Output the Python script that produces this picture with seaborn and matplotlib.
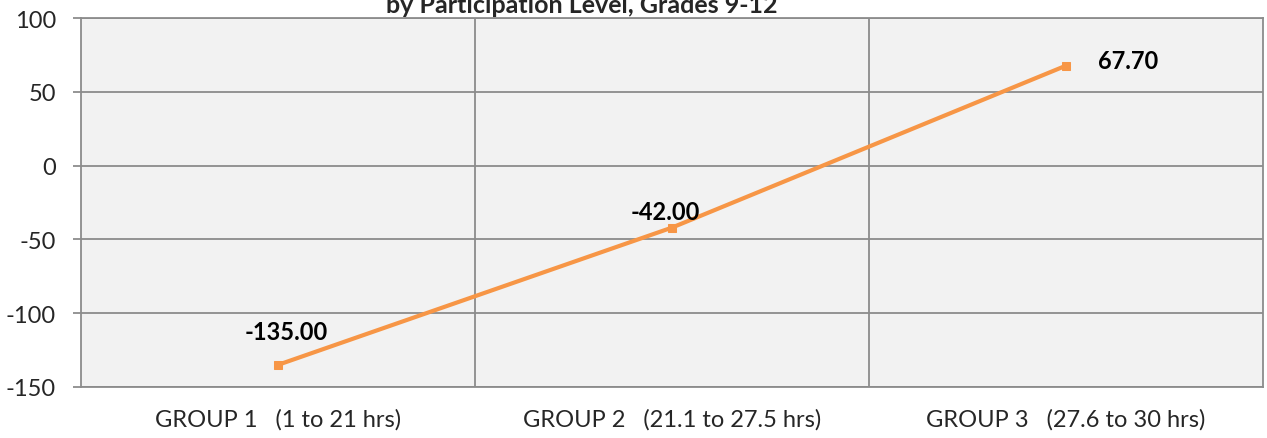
import matplotlib
matplotlib.use("Agg")
import matplotlib.pyplot as plt
import pandas as pd
import seaborn as sns

groups = ["GROUP 1   (1 to 21 hrs)", "GROUP 2   (21.1 to 27.5 hrs)", "GROUP 3   (27.6 to 30 hrs)"]
values = [-135.00, -42.00, 67.70]
y_ticks = [-150, -100, -50, 0, 50, 100]
title = "by Participation Level, Grades 9-12"

# label offsets in pixels (dx, dy) relative to each point
label_offsets = [(8, 33), (-7, 16), (62, 5)]

ORANGE = "#F79646"
GRID = "#8C8C8C"

sns.set_theme(style="white")
plt.rcParams["font.family"] = ["Lato", "DejaVu Sans"]
plt.rcParams["axes.unicode_minus"] = False

frame = pd.DataFrame({"group": groups, "value": values})

fig = plt.figure(figsize=(12.67, 4.39), dpi=100)
ax = fig.add_axes([81 / 1267, 1 - 388 / 439, (1263 - 81) / 1267, (388 - 19) / 439])
ax.set_facecolor("#F2F2F2")

sns.lineplot(data=frame, x="group", y="value", ax=ax, color=ORANGE, linewidth=3,
             marker="s", markersize=6, markeredgecolor=ORANGE, sort=False)

for i, (v, (dx, dy)) in enumerate(zip(values, label_offsets)):
    ax.annotate(f"{v:.2f}", (i, v), xytext=(dx, dy), textcoords="offset pixels",
                ha="center", va="center", fontsize=17, fontweight="bold", color="black")

ax.set_xlim(-0.5, len(groups) - 0.5)
ax.set_ylim(y_ticks[0], y_ticks[-1])
ax.set_yticks(y_ticks)
ax.set_xticks(range(len(groups)))
ax.set_xticks([i + 0.5 for i in range(len(groups) - 1)], minor=True)
ax.grid(True, axis="y", color=GRID, linewidth=1.3)
ax.grid(True, axis="x", which="minor", color=GRID, linewidth=1.3)
ax.grid(False, axis="x", which="major")
ax.set_axisbelow(True)

ax.tick_params(axis="y", which="major", length=6, width=1.3, color=GRID, pad=12, labelsize=17, left=True)
ax.tick_params(axis="x", which="major", length=0, pad=15, labelsize=17)
ax.tick_params(axis="x", which="minor", length=0)
for spine in ax.spines.values():
    spine.set_color(GRID)
    spine.set_linewidth(1.3)
ax.set_xlabel("")
ax.set_ylabel("")

fig.text(0.459, 1 - 13 / 439, title, ha="center", va="baseline", fontsize=18, fontweight="bold")

fig.savefig("out.png", dpi=100)
